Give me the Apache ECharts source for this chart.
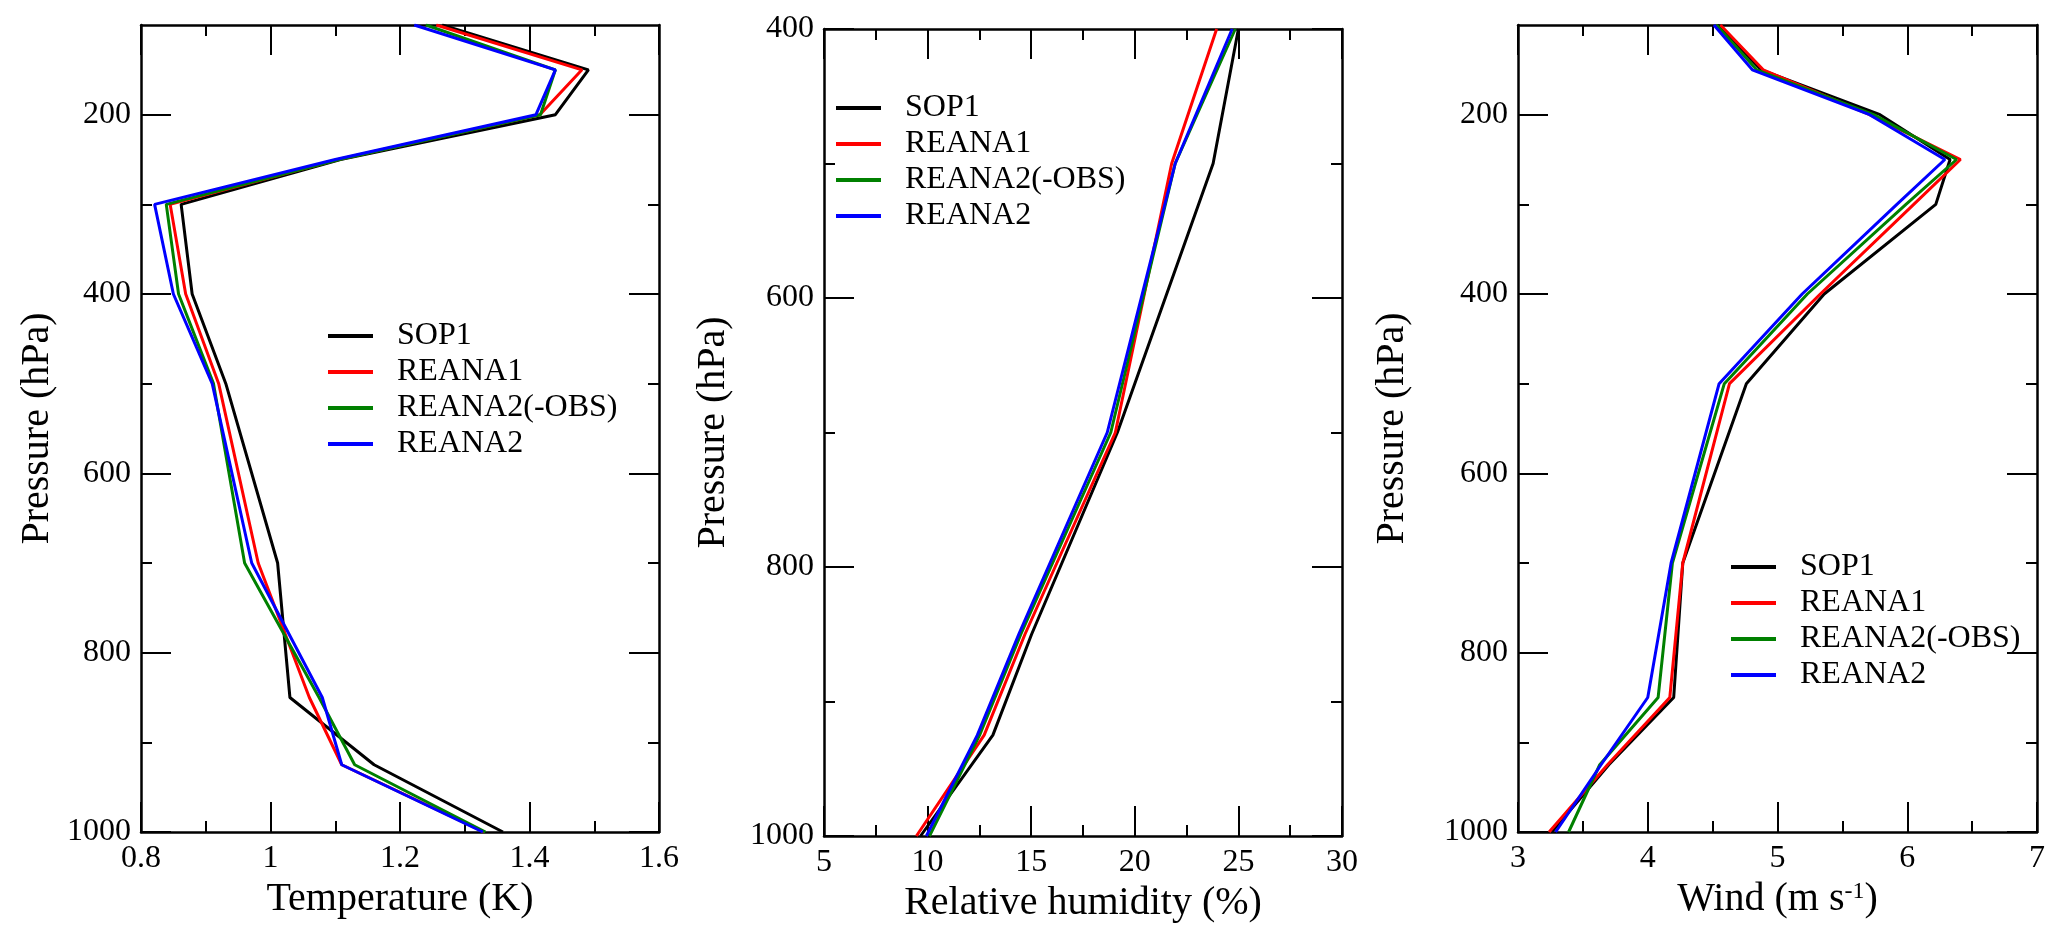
<!DOCTYPE html>
<html>
<head>
<meta charset="utf-8">
<script src="https://cdn.jsdelivr.net/npm/echarts@6/dist/echarts.min.js"></script>
<style>
html,body{margin:0;padding:0;background:#fff;}
#chart{width:2067px;height:940px;}
</style>
</head>
<body>
<div id="chart"></div>
<script>
// ---------------- data ----------------
const SERIES_NAMES = ['SOP1', 'REANA1', 'REANA2(-OBS)', 'REANA2'];
const SERIES_COLORS = ['#000000', '#ff0000', '#008000', '#0000ff'];

const P_LEVELS = [100, 150, 200, 250, 300, 400, 500, 700, 850, 925, 1000];
const P_RH = [400, 500, 700, 850, 925, 1000];

// Temperature (K)
const T_SOP1      = [1.265, 1.491, 1.440, 1.108, 0.862, 0.879, 0.931, 1.011, 1.030, 1.160, 1.359];
const T_REANA1    = [1.256, 1.481, 1.416, 1.104, 0.845, 0.869, 0.920, 0.981, 1.060, 1.110, 1.330];
const T_REANA2OBS = [1.240, 1.440, 1.417, 1.106, 0.839, 0.858, 0.912, 0.960, 1.075, 1.130, 1.332];
const T_REANA2    = [1.222, 1.440, 1.410, 1.100, 0.821, 0.850, 0.910, 0.971, 1.080, 1.110, 1.328];

// Relative humidity (%)
const RH_SOP1      = [25.0, 23.78, 19.16, 15.02, 13.15, 9.66];
const RH_REANA1    = [23.95, 21.78, 19.06, 14.70, 12.73, 9.46];
const RH_REANA2OBS = [24.85, 21.95, 18.84, 14.50, 12.51, 10.09];
const RH_REANA2    = [24.70, 21.95, 18.67, 14.40, 12.40, 9.94];

// Wind (m s-1)
const W_SOP1      = [4.54, 4.875, 5.79, 6.33, 6.22, 5.36, 4.76, 4.27, 4.20, 3.70, 3.26];
const W_REANA1    = [4.56, 4.890, 5.71, 6.41, 6.05, 5.33, 4.63, 4.27, 4.17, 3.69, 3.24];
const W_REANA2OBS = [4.53, 4.840, 5.74, 6.38, 5.99, 5.23, 4.59, 4.19, 4.08, 3.63, 3.39];
const W_REANA2    = [4.51, 4.806, 5.71, 6.29, 5.92, 5.19, 4.55, 4.18, 4.00, 3.64, 3.29];

// axis ticks
const X_TEMP = {min: 0.8, max: 1.6, interval: 0.2};
const X_RH   = {min: 5, max: 30, interval: 5};
const X_WIND = {min: 3, max: 7, interval: 1};
const Y_FULL_MAJOR = [200, 400, 600, 800, 1000];
const Y_FULL_MINOR = [300, 500, 700, 900];
const Y_RH_MAJOR = [400, 600, 800, 1000];
const Y_RH_MINOR = [500, 700, 900];

// ---------------- layout ----------------
const FONT = "'Liberation Serif', 'Times New Roman', serif";
const panels = [
  {grid: {left: 141, top: 25, width: 518, height: 807}, x: X_TEMP, xName: 'Temperature (K)',
   yMin: 100, yMax: 1000, yMajor: Y_FULL_MAJOR, yMinor: Y_FULL_MINOR, yNameGap: 84,
   p: P_LEVELS, data: [T_SOP1, T_REANA1, T_REANA2OBS, T_REANA2], legend: {left: 328, top: 319}},
  {grid: {left: 824, top: 29, width: 518, height: 807}, x: X_RH, xName: 'Relative humidity (%)',
   yMin: 400, yMax: 1000, yMajor: Y_RH_MAJOR, yMinor: Y_RH_MINOR, yNameGap: 91,
   p: P_RH, data: [RH_SOP1, RH_REANA1, RH_REANA2OBS, RH_REANA2], legend: {left: 836, top: 91}},
  {grid: {left: 1518, top: 25, width: 519, height: 807}, x: X_WIND, xName: 'Wind (m s{sup|-1})',
   yMin: 100, yMax: 1000, yMajor: Y_FULL_MAJOR, yMinor: Y_FULL_MINOR, yNameGap: 106,
   p: P_LEVELS, data: [W_SOP1, W_REANA1, W_REANA2OBS, W_REANA2], legend: {left: 1731, top: 550}}
];

const AXIS_LINE = {show: true, lineStyle: {color: '#000', width: 2.5}};
const grids = [], xAxes = [], yAxes = [], series = [], legends = [];

panels.forEach((pn, g) => {
  grids.push(Object.assign({containLabel: false}, pn.grid));
  const xBase = {
    type: 'value', gridIndex: g, min: pn.x.min, max: pn.x.max, interval: pn.x.interval,
    axisLine: AXIS_LINE, splitLine: {show: false},
    axisTick: {show: true, inside: true, length: 30, lineStyle: {color: '#000', width: 2}},
    minorTick: {show: true, splitNumber: 2, length: 11, lineStyle: {color: '#000', width: 2}},
    minorSplitLine: {show: false}
  };
  xAxes.push(Object.assign({}, xBase, {
    position: 'bottom',
    axisLabel: {show: true, fontFamily: FONT, fontSize: 32, color: '#000', margin: 11,
      formatter: v => String(+(+v).toFixed(1))},
    name: pn.xName, nameLocation: 'middle', nameGap: 45,
    nameTextStyle: {fontFamily: FONT, fontSize: 40, color: '#000',
      rich: {sup: {fontFamily: FONT, fontSize: 24, color: '#000', verticalAlign: 'top'}}}
  }));
  xAxes.push(Object.assign({}, xBase, {position: 'top', axisLabel: {show: false}}));

  const yBase = {
    type: 'value', gridIndex: g, min: pn.yMin, max: pn.yMax, interval: 100, inverse: true,
    splitLine: {show: false}
  };
  // left major (with labels)
  yAxes.push(Object.assign({}, yBase, {
    position: 'left', axisLine: AXIS_LINE,
    axisTick: {show: true, inside: true, length: 30, customValues: pn.yMajor,
      lineStyle: {color: '#000', width: 2}},
    axisLabel: {show: true, customValues: pn.yMajor, fontFamily: FONT, fontSize: 32, color: '#000',
      margin: 10, formatter: v => String(Math.round(v))},
    name: 'Pressure (hPa)', nameLocation: 'middle', nameGap: pn.yNameGap, nameRotate: 90,
    nameTextStyle: {fontFamily: FONT, fontSize: 40, color: '#000'}
  }));
  // left minor
  yAxes.push(Object.assign({}, yBase, {
    position: 'left', axisLine: {show: false},
    axisTick: {show: true, inside: true, length: 11, customValues: pn.yMinor,
      lineStyle: {color: '#000', width: 2}},
    axisLabel: {show: false}
  }));
  // right major
  yAxes.push(Object.assign({}, yBase, {
    position: 'right', axisLine: AXIS_LINE,
    axisTick: {show: true, inside: true, length: 30, customValues: pn.yMajor,
      lineStyle: {color: '#000', width: 2}},
    axisLabel: {show: false}
  }));
  // right minor
  yAxes.push(Object.assign({}, yBase, {
    position: 'right', axisLine: {show: false},
    axisTick: {show: true, inside: true, length: 11, customValues: pn.yMinor,
      lineStyle: {color: '#000', width: 2}},
    axisLabel: {show: false}
  }));

  SERIES_NAMES.forEach((name, i) => {
    series.push({
      type: 'line', name: name, xAxisIndex: 2 * g, yAxisIndex: 4 * g,
      data: pn.data[i].map((v, k) => [v, pn.p[k]]),
      symbol: 'none', showSymbol: false, silent: true, animation: false,
      lineStyle: {color: SERIES_COLORS[i], width: 3},
      itemStyle: {color: SERIES_COLORS[i]},
      z: 2 + i, clip: true
    });
  });

  legends.push({
    left: pn.legend.left, top: pn.legend.top, orient: 'vertical', padding: 0,
    itemGap: 2, itemWidth: 45, itemHeight: 4, icon: 'rect',
    selectedMode: false,
    textStyle: {fontFamily: FONT, fontSize: 32, color: '#000', lineHeight: 34, padding: [0, 0, 0, 19]},
    data: SERIES_NAMES
  });
});

const chart = echarts.init(document.getElementById('chart'), null, {renderer: 'canvas'});
chart.setOption({
  backgroundColor: '#fff',
  animation: false,
  grid: grids,
  xAxis: xAxes,
  yAxis: yAxes,
  legend: legends,
  series: series
});
</script>
</body>
</html>
